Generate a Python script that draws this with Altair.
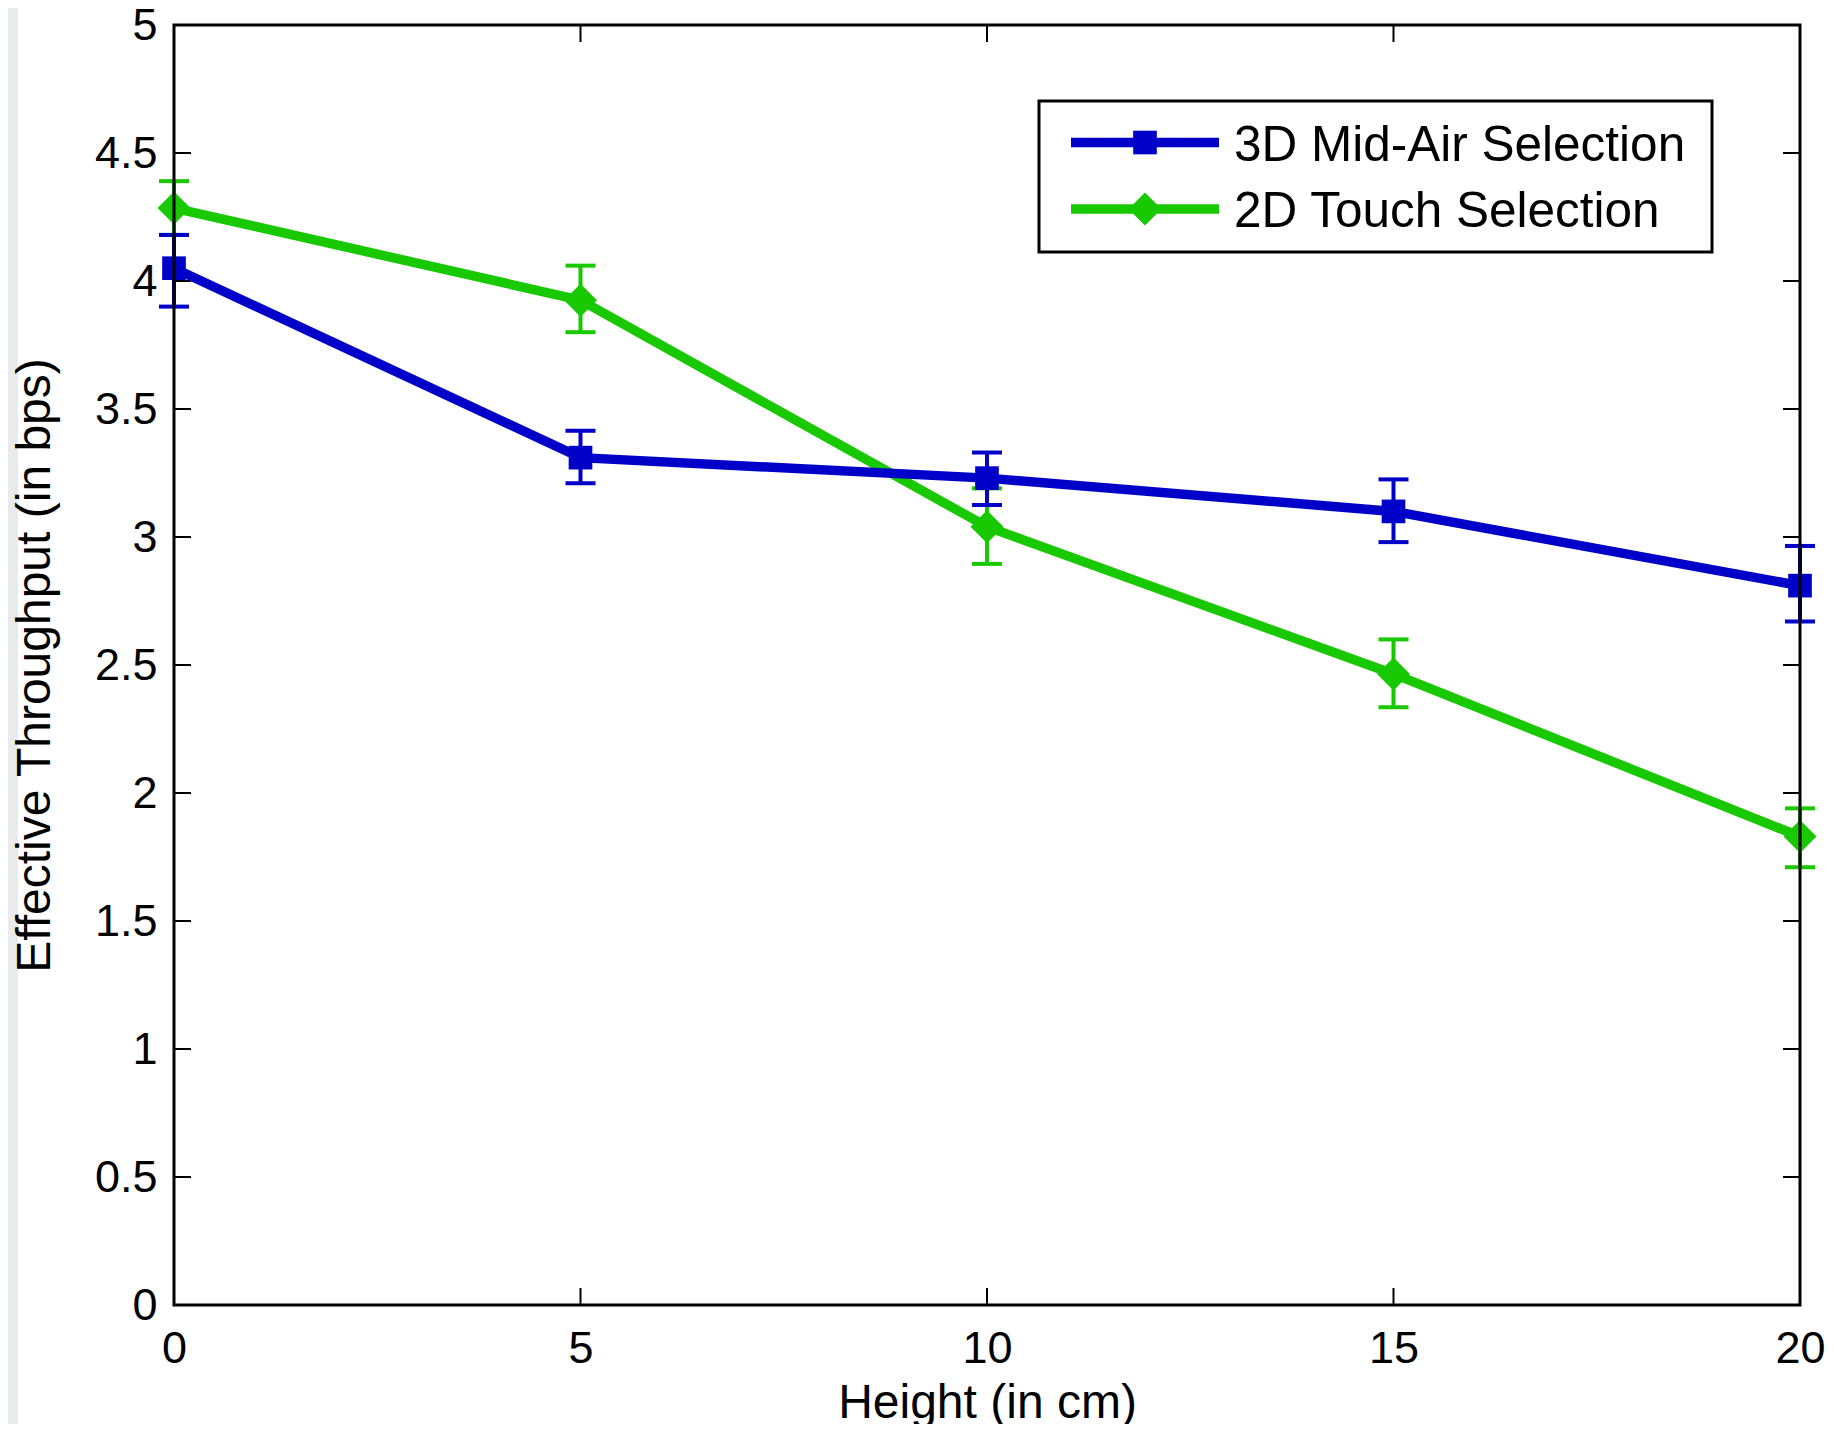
import altair as alt
import pandas as pd

# ---------------- data ----------------
heights = [0, 5, 10, 15, 20]
series_names = ["3D Mid-Air Selection", "2D Touch Selection"]

mid_air = [4.05, 3.31, 3.23, 3.10, 2.81]
mid_air_hi = [4.18, 3.415, 3.33, 3.225, 2.965]
mid_air_lo = [3.90, 3.21, 3.125, 2.98, 2.67]

touch = [4.285, 3.925, 3.04, 2.465, 1.83]
touch_hi = [4.39, 4.06, 3.19, 2.60, 1.94]
touch_lo = [4.18, 3.80, 2.895, 2.335, 1.71]

x_ticks = [0, 5, 10, 15, 20]
y_ticks = [0, 0.5, 1, 1.5, 2, 2.5, 3, 3.5, 4, 4.5, 5]

# ---------------- styling ----------------
W, H = 1626, 1280
FONT = "Liberation Sans"
colors = ["#0000c8", "#18c800"]
shapes = ["square", "diamond"]
shape_sizes = [560, 1090]
TICK = 17

series_vals = [(mid_air, mid_air_hi, mid_air_lo), (touch, touch_hi, touch_lo)]

frames = []
for name, (v, hi, lo) in zip(series_names, series_vals):
    frames.append(pd.DataFrame({"height": heights, "value": v, "hi": hi, "lo": lo, "series": name}))

xscale = alt.Scale(domain=[0, 20], nice=False, zero=False)
yscale = alt.Scale(domain=[0, 5], nice=False, zero=False)

x_axis = alt.Axis(values=x_ticks, title="Height (in cm)", ticks=False, tickSize=0, domain=False,
                  grid=False, labelFont=FONT, labelFontSize=45, labelColor="black",
                  labelBaseline="middle", labelPadding=43, labelFlush=False, labelOverlap=False,
                  titleFont=FONT, titleFontSize=48, titleFontWeight="normal", titleColor="black",
                  titleX=W / 2, titleY=98, titleBaseline="middle", titleAlign="center", zindex=1)
y_axis = alt.Axis(values=y_ticks, format="~g", title="Effective Throughput (in bps)", ticks=False,
                  tickSize=0, domain=False, grid=False, labelFont=FONT, labelFontSize=45,
                  labelColor="black", labelPadding=17, labelBaseline="middle", labelFlush=False,
                  labelOverlap=False, titleFont=FONT, titleFontSize=48, titleFontWeight="normal",
                  titleColor="black", titleAngle=-90, titleX=-139, titleY=H / 2,
                  titleBaseline="middle", titleAlign="center", zindex=1)

X = alt.X("height:Q", scale=xscale, axis=x_axis)
Y = alt.Y("value:Q", scale=yscale, axis=y_axis)

one = pd.DataFrame({"k": [0]})

layers = []
# white panel (decorative background)
layers.append(alt.Chart(one).mark_rect(fill="white").encode(
    x=alt.value(-156), x2=alt.value(1653), y=alt.value(-20), y2=alt.value(1410)))

# inward ticks
xt = pd.DataFrame({"height": x_ticks})
yt = pd.DataFrame({"value": y_ticks})
layers.append(alt.Chart(xt).mark_rule(color="black", strokeWidth=2).encode(
    x=X, y=alt.value(H), y2=alt.value(H - TICK)))
layers.append(alt.Chart(xt).mark_rule(color="black", strokeWidth=2).encode(
    x=X, y=alt.value(0), y2=alt.value(TICK)))
layers.append(alt.Chart(yt).mark_rule(color="black", strokeWidth=2).encode(
    y=Y, x=alt.value(0), x2=alt.value(TICK)))
layers.append(alt.Chart(yt).mark_rule(color="black", strokeWidth=2).encode(
    y=Y, x=alt.value(W), x2=alt.value(W - TICK)))

# series, green first so blue is on top
for i in [1, 0]:
    df = frames[i]
    c = colors[i]
    base = alt.Chart(df)
    layers.append(base.mark_rule(color=c, strokeWidth=4).encode(
        x=X, y=Y, y2="hi:Q"))
    layers.append(base.mark_rule(color=c, strokeWidth=4).encode(
        x=X, y=alt.Y("lo:Q", scale=yscale, axis=y_axis), y2="value:Q"))
    layers.append(base.mark_tick(color=c, orient="horizontal", size=30, thickness=4,
                                 opacity=1).encode(
        x=X, y=alt.Y("hi:Q", scale=yscale, axis=y_axis)))
    layers.append(base.mark_tick(color=c, orient="horizontal", size=30, thickness=4,
                                 opacity=1).encode(
        x=X, y=alt.Y("lo:Q", scale=yscale, axis=y_axis)))
    layers.append(base.mark_line(color=c, strokeWidth=9.5).encode(x=X, y=Y))
    layers.append(base.mark_point(color=c, fill=c, filled=True, opacity=1, shape=shapes[i],
                                  size=shape_sizes[i]).encode(x=X, y=Y))

# frame around plot area
layers.append(alt.Chart(one).mark_rect(fill=None, stroke="black", strokeWidth=3).encode(
    x=alt.value(0), x2=alt.value(W), y=alt.value(0), y2=alt.value(H)))

# legend
layers.append(alt.Chart(one).mark_rect(fill="white", stroke="black", strokeWidth=3).encode(
    x=alt.value(865), x2=alt.value(1538), y=alt.value(76), y2=alt.value(227)))
row_y = [117.5, 184]
for i, name in enumerate(series_names):
    ldf = pd.DataFrame({"series": [name]})
    lc = alt.Chart(ldf)
    layers.append(lc.mark_rule(color=colors[i], strokeWidth=9.5).encode(
        x=alt.value(897), x2=alt.value(1045), y=alt.value(row_y[i])))
    layers.append(lc.mark_point(color=colors[i], fill=colors[i], filled=True, opacity=1,
                                shape=shapes[i], size=shape_sizes[i]).encode(
        x=alt.value(971), y=alt.value(row_y[i])))
    layers.append(lc.mark_text(align="left", baseline="middle", font=FONT, fontSize=49.5,
                               color="black").encode(
        x=alt.value(1060), y=alt.value(row_y[i] + 3), text="series:N"))

chart = alt.layer(*layers).properties(
    width=W, height=H,
    autosize=alt.AutoSizeParams(type="none"),
    padding={"left": 166, "top": 17, "right": 26, "bottom": 119},
    background="#e8eaed",
).configure_view(stroke=None, fill="white")

chart.save("out.html", embed_options={"renderer": "svg", "actions": False})
